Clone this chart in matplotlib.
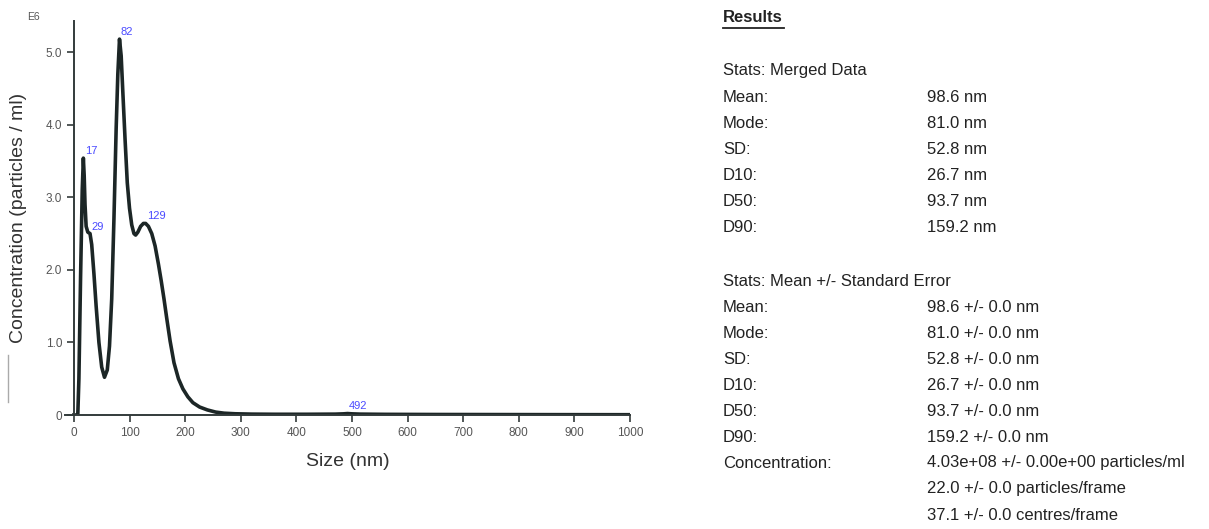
import matplotlib
matplotlib.use("Agg")
import matplotlib.pyplot as plt
from matplotlib.lines import Line2D

# size distribution (nm, 1e6 particles/ml)
size_nm = [0, 5, 7, 9, 12, 15, 17, 18.5, 20, 22, 25, 29, 32, 36, 40, 45, 50, 55,
           60, 64, 68, 72, 76, 79, 82, 85, 88, 92, 96, 100, 104, 108, 111, 115,
           120, 125, 129, 134, 140, 146, 152, 157, 162, 167, 173, 180, 188, 196,
           205, 214, 226, 240, 255, 270, 290, 320, 360, 420, 470, 485, 492, 500,
           515, 560, 650, 750, 850, 1000]
conc = [0, 0, 0, 0.5, 1.9, 3.1, 3.54, 3.3, 2.9, 2.6, 2.52, 2.5, 2.35, 1.95, 1.5,
        1.0, 0.66, 0.52, 0.62, 0.95, 1.6, 2.7, 3.95, 4.7, 5.18, 4.95, 4.45, 3.8,
        3.2, 2.85, 2.62, 2.5, 2.48, 2.52, 2.6, 2.64, 2.64, 2.6, 2.5, 2.33, 2.08,
        1.85, 1.6, 1.33, 1.02, 0.72, 0.5, 0.36, 0.25, 0.17, 0.11, 0.07, 0.04,
        0.025, 0.017, 0.012, 0.01, 0.01, 0.012, 0.016, 0.02, 0.016, 0.012, 0.009,
        0.007, 0.006, 0.005, 0.004]

peak_x = [17, 29, 82, 129, 492]
peak_y = [3.54, 2.5, 5.18, 2.64, 0.02]
peak_labels = ["17", "29", "82", "129", "492"]

xticks = [0, 100, 200, 300, 400, 500, 600, 700, 800, 900, 1000]
yticks = [0, 1, 2, 3, 4, 5]
ytick_labels = ["0", "1.0", "2.0", "3.0", "4.0", "5.0"]

merged_names = ["Mean:", "Mode:", "SD:", "D10:", "D50:", "D90:"]
merged_vals = ["98.6 nm", "81.0 nm", "52.8 nm", "26.7 nm", "93.7 nm", "159.2 nm"]
se_names = ["Mean:", "Mode:", "SD:", "D10:", "D50:", "D90:", "Concentration:", "", ""]
se_vals = ["98.6 +/- 0.0 nm", "81.0 +/- 0.0 nm", "52.8 +/- 0.0 nm",
           "26.7 +/- 0.0 nm", "93.7 +/- 0.0 nm", "159.2 +/- 0.0 nm",
           "4.03e+08 +/- 0.00e+00 particles/ml",
           "22.0 +/- 0.0 particles/frame", "37.1 +/- 0.0 centres/frame"]

plt.rcParams["font.family"] = ["Liberation Sans", "DejaVu Sans"]
W, H = 1209, 529
fig = plt.figure(figsize=(W / 100, H / 100), dpi=100)

# axes: x from -16 nm (px 65) to 1000 nm (px 630), y 0 (px 415) to 5.43 (px 21)
ax = fig.add_axes([65 / W, (H - 415) / H, 565 / W, 394 / H])
ax.plot(size_nm, conc, color="#1c2626", lw=2.6, solid_joinstyle="round")
for px, py, lab in zip(peak_x, peak_y, peak_labels):
    ax.annotate(lab, (px, py), xytext=(1, 1.5), textcoords="offset points",
                fontsize=8, color="#4a4aff", ha="left", va="bottom")

ax.set_xlim(-16, 1000)
ax.set_ylim(0, 5.43)
ax.spines["left"].set_position(("data", 0))
ax.spines["top"].set_visible(False)
ax.spines["right"].set_visible(False)
for s in ("left", "bottom"):
    ax.spines[s].set_color("#333b3b")
    ax.spines[s].set_linewidth(1.4)
ax.set_xticks(xticks)
ax.set_xticklabels([str(t) for t in xticks])
ax.set_yticks(yticks)
ax.set_yticklabels(ytick_labels)
ax.tick_params(axis="both", direction="out", length=5, width=1.2,
               color="#333b3b", labelsize=8.5, labelcolor="#555555")
ax.set_xlabel("Size (nm)", fontsize=14, color="#333333", labelpad=10)
ax.set_ylabel("Concentration (particles / ml)", fontsize=14, color="#333333")
ax.yaxis.set_label_coords(-0.067, 0.5)
fig.text(33 / W, 1 - 17 / H, "E6", fontsize=7.5, color="#555555",
         ha="center", va="center")
fig.add_artist(Line2D([8 / W, 8 / W], [1 - 355 / H, 1 - 402 / H],
                      color="#aaaaaa", lw=1))

# results table on the right
fs = 12
tc = "#222222"
x1, x2 = 723 / W, 927 / W
fig.text(x1, 1 - 18 / H, "Results", fontsize=12, fontweight="bold",
         color=tc, va="center")
fig.add_artist(Line2D([x1, 784 / W], [1 - 28 / H, 1 - 28 / H], color=tc, lw=1.3))
fig.text(x1, 1 - 71 / H, "Stats: Merged Data", fontsize=fs, color=tc, va="center")
for i, (n, v) in enumerate(zip(merged_names, merged_vals)):
    y = 1 - (97 + 26 * i) / H
    fig.text(x1, y, n, fontsize=fs, color=tc, va="center")
    fig.text(x2, y, v, fontsize=fs, color=tc, va="center")
fig.text(x1, 1 - 281 / H, "Stats: Mean +/- Standard Error", fontsize=fs,
         color=tc, va="center")
for i, (n, v) in enumerate(zip(se_names, se_vals)):
    y = 1 - (307 + 26 * i) / H
    if n:
        fig.text(x1, y, n, fontsize=fs, color=tc, va="center")
    fig.text(x2, y, v, fontsize=fs, color=tc, va="center")

fig.savefig("out.png", dpi=100)
